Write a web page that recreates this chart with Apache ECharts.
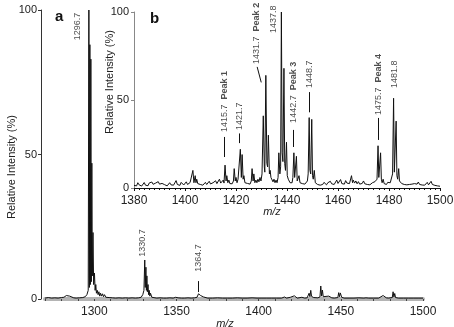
<!DOCTYPE html>
<html><head><meta charset="utf-8">
<script src="https://cdn.jsdelivr.net/npm/echarts@6/dist/echarts.min.js"></script>
<style>html,body{margin:0;padding:0;background:#fff}#c{width:454px;height:327px}</style>
</head><body><div id="c"></div>
<script>
// ---- axis ticks / labels ----
const mainXTicks = [1270,1280,1290,1300,1310,1320,1330,1340,1350,1360,1370,1380,1390,1400,1410,1420,1430,1440,1450,1460,1470,1480,1490,1500];
const mainXLabels = [1300,1350,1400,1450,1500];
const yTickLabels = [0,50,100];
const insetXLabels = [1380,1400,1420,1440,1460,1480,1500];

// ---- spectrum (a): full range, m/z vs relative intensity ----
const mainSpectrum = [
[1270,0.3],[1272,0.5],[1274,0.3],[1276,0.4],[1278,0.3],[1280,0.5],[1281.5,0.6],[1283,1.2],[1284,1.5],[1285,1.0],[1286,0.6],[1287.5,0.4],[1289,0.3],[1291,0.4],[1293,0.5],[1294.5,0.8],[1295.5,1.5],[1296.3,3],[1296.7,100],[1297.0,4],[1297.3,88],[1297.6,5],[1297.9,83],[1298.2,6],[1298.5,47],[1298.8,8],[1299.2,23],[1299.6,5],[1300.1,9],[1300.5,3],[1300.9,5],[1301.3,2],[1301.8,3],[1302.3,1.5],[1302.8,2.5],[1303.3,1],[1303.8,2],[1304.4,1],[1305,1.8],[1305.6,0.8],[1306.2,1.5],[1307,0.6],[1308,1.2],[1309,0.5],[1310,1.0],[1311,0.4],[1312,0.8],[1313,0.3],[1315,0.4],[1317,0.3],[1319,0.4],[1321,0.3],[1323,0.4],[1325,0.3],[1327,0.4],[1328.5,0.6],[1329.5,1.5],[1330.2,3],[1330.7,13.5],[1331.0,4],[1331.4,11],[1331.7,3],[1332.0,8],[1332.3,2.5],[1332.7,5],[1333.0,1.5],[1333.4,3],[1333.8,1],[1334.2,2],[1335,0.6],[1336,0.4],[1338,0.3],[1340,0.4],[1342,0.3],[1344,0.3],[1346,0.4],[1348,0.3],[1349.5,0.6],[1350.2,0.9],[1351,0.4],[1353,0.3],[1355,0.3],[1357,0.4],[1359,0.3],[1361,0.4],[1362.5,0.6],[1363.4,1.8],[1364.0,1.5],[1364.7,1.2],[1365.5,0.9],[1366.5,0.7],[1367.5,0.5],[1369,0.3],[1372,0.3],[1375,0.4],[1378,0.3],[1381,0.3],[1384,0.3],[1387,0.4],[1390,0.3],[1393,0.3],[1396,0.4],[1399,0.3],[1402,0.3],[1403.1,0.6],[1405,0.3],[1408,0.3],[1411,0.3],[1414,0.3],[1415.7,0.7],[1417,0.3],[1419.3,0.6],[1420.5,0.3],[1421.7,1.1],[1422.4,0.9],[1423.5,0.3],[1426.3,0.6],[1428,0.3],[1429.5,0.4],[1430.2,0.6],[1430.7,2.0],[1431.2,0.8],[1431.7,3.0],[1432.2,0.9],[1432.7,1.5],[1433.5,0.5],[1434.5,0.3],[1436,0.4],[1436.8,1.0],[1437.3,0.7],[1437.8,4.5],[1438.3,1.0],[1438.8,3.1],[1439.3,0.8],[1439.8,1.3],[1440.5,0.4],[1442.7,1.0],[1443.7,0.9],[1444.5,0.4],[1446,0.3],[1448.2,0.5],[1448.7,2.2],[1449.2,0.8],[1449.7,2.1],[1450.5,0.6],[1452,0.3],[1455,0.3],[1458,0.3],[1461,0.4],[1464,0.3],[1465.3,0.4],[1467,0.3],[1470,0.3],[1473,0.3],[1475.7,1.2],[1476.7,1.0],[1477.7,0.4],[1479,0.3],[1481.3,0.5],[1481.8,2.5],[1482.3,0.7],[1482.8,1.9],[1483.3,0.5],[1483.8,0.6],[1485,0.3],[1488,0.3],[1491,0.3],[1494,0.3],[1497,0.3],[1500,0.3]
];

// ---- spectrum (b): zoom 1380-1500 ----
const insetSpectrum = [
[1380,1.5],[1380.5,2.5],[1381,1.2],[1381.5,3],[1382,1.8],[1382.5,2.4],[1383,1.1],[1383.5,2.2],[1384,3.1],[1384.5,1.6],[1385,2.7],[1385.5,1.3],[1386,2.9],[1386.5,1.9],[1387,3.4],[1387.5,2.1],[1388,1.4],[1388.5,2.8],[1389,1.7],[1389.5,3.6],[1390,2.2],[1390.5,1.5],[1391,2.6],[1391.5,3.3],[1392,1.9],[1392.5,2.5],[1393,1.2],[1393.5,2.3],[1394,3.0],[1394.5,1.8],[1395,2.4],[1395.5,1.6],[1396,2.9],[1396.5,4.2],[1397,2.0],[1397.5,2.7],[1398,1.5],[1398.5,3.2],[1399,2.1],[1399.5,1.7],[1400,2.8],[1400.5,3.5],[1401,2.0],[1401.5,2.6],[1402,3.1],[1402.5,2.0],[1403.1,10],[1403.5,3],[1404,7],[1404.3,3],[1404.6,5],[1405,2.5],[1405.5,3.5],[1406,2],[1406.5,2.8],[1407,1.6],[1407.5,2.4],[1408,3.2],[1408.5,2.0],[1409,2.7],[1409.5,3.8],[1410,2.3],[1410.5,1.9],[1411,3.0],[1411.5,2.2],[1412,4.1],[1412.5,2.5],[1413,3.4],[1413.5,5.0],[1414,2.8],[1414.5,3.6],[1415,4.5],[1415.3,2.8],[1415.7,13],[1416.1,4],[1416.4,7],[1416.8,3],[1417.2,4.5],[1417.6,2.5],[1418,3.3],[1418.5,2.4],[1419,4],[1419.3,11],[1419.7,4],[1420,6],[1420.4,3],[1420.8,5],[1421.2,4],[1421.7,22],[1422.1,6],[1422.4,19],[1422.8,5],[1423.1,7],[1423.5,3],[1424,4],[1424.5,2.6],[1425,3.4],[1425.5,2.2],[1426,4],[1426.3,11],[1426.7,4],[1427,8],[1427.4,3],[1427.8,4.5],[1428.2,3],[1428.6,5],[1429,3.5],[1429.4,6],[1429.8,4],[1430.2,8],[1430.7,41],[1431.1,12],[1431.3,9],[1431.7,64],[1432.1,14],[1432.4,12],[1432.7,30],[1433.1,8],[1433.4,10],[1433.7,6],[1434.1,5],[1434.5,3.5],[1434.9,5],[1435.3,3],[1435.7,4.5],[1436.1,3],[1436.5,6],[1436.8,20],[1437.2,8],[1437.5,12],[1437.8,100],[1438.1,20],[1438.4,15],[1438.8,68],[1439.1,14],[1439.4,10],[1439.8,26],[1440.1,7],[1440.5,5],[1440.8,6],[1441.2,3],[1441.6,4],[1442,3],[1442.3,6],[1442.7,20],[1443,6],[1443.3,5],[1443.7,18],[1444,4],[1444.3,4],[1444.7,7],[1445.1,3],[1445.5,4],[1446,2.5],[1446.5,3.5],[1447,2.2],[1447.5,3],[1448,4],[1448.3,8],[1448.7,40],[1449,10],[1449.3,8],[1449.7,39],[1450,7],[1450.3,5],[1450.7,10],[1451.1,3],[1451.5,3.5],[1452,2],[1452.5,2.8],[1453,1.6],[1453.5,2.4],[1454,2],[1454.5,3.2],[1455,2.2],[1455.5,1.8],[1456,3],[1456.5,2.5],[1457,3.8],[1457.5,2.4],[1458,3.2],[1458.5,2],[1459,2.8],[1459.5,4.5],[1460,2.6],[1460.5,3.2],[1461,4.8],[1461.5,2.5],[1462,3.4],[1462.5,2.2],[1463,4.2],[1463.5,2.8],[1464,3.6],[1464.5,2.5],[1465.3,7],[1465.7,3],[1466,4.5],[1466.5,2.8],[1467,4],[1467.5,2.4],[1468,3.6],[1468.5,2.2],[1469,3.3],[1469.5,2.6],[1470,4],[1470.5,2.4],[1471,3.1],[1471.5,2],[1472,2.7],[1472.5,1.8],[1473,2.5],[1473.5,3],[1474,2.2],[1474.5,3.6],[1475,4],[1475.3,5],[1475.7,24],[1476,6],[1476.3,5],[1476.7,20],[1477,5],[1477.3,3],[1477.7,5],[1478.1,2.5],[1478.5,3],[1479,2],[1479.5,3.2],[1480,2.4],[1480.5,3],[1481,3.5],[1481.4,8],[1481.8,51],[1482.1,9],[1482.4,8],[1482.8,38],[1483.1,7],[1483.4,5],[1483.8,11],[1484.1,4],[1484.5,3],[1485,2.5],[1485.5,3.2],[1486,2],[1486.5,2.6],[1487,1.8],[1487.5,2.4],[1488,2],[1488.5,1.6],[1489,2.2],[1489.5,1.5],[1490,2.5],[1490.5,1.8],[1491,2.2],[1491.5,3.4],[1492,2],[1492.5,2.8],[1493,1.7],[1493.5,2.4],[1494,1.6],[1494.5,2.2],[1495,3.2],[1495.5,1.8],[1496,2.6],[1496.5,3.8],[1497,2],[1497.5,2.4],[1498,1.5],[1498.5,2],[1499,1.2],[1499.5,1.6],[1500,1]
];

// ---- peak annotation texts ----
const mainPeakNames = ['1296.7','1330.7','1364.7'];
const insetPeakNames = ['1415.7','1421.7','1431.7','1437.8','1442.7','1448.7','1475.7','1481.8'];
const insetPeakTags = ['Peak 1','','Peak 2','','Peak 3','','Peak 4',''];

// annotation layout (in data coordinates of each panel)
const mainLabelAnchors = [[1289.6,89.5],[1329.4,14.6],[1363.4,9.4]];
const mainLeaders = [[[1363.4,6.2],[1363.4,2.4]]];
const insetLabelAnchors = [[1415.5,31.8],[1421.3,32.9],[1428.0,70.5],[1434.7,88.0],[1442.5,37.0],[1448.7,56.8],[1475.7,41.5],[1482.0,56.8]];
const insetLeaders = [
  [[1415.5,29.0],[1415.5,17.6]],
  [[1421.3,31.0],[1421.3,25.5]],
  [[1428.3,68.8],[1429.9,60.0]],
  [[1442.5,33.0],[1442.5,23.3]],
  [[1448.6,54.5],[1448.6,43.0]],
  [[1475.6,39.8],[1475.6,27.3]]
];

const FONT = 'Liberation Sans, Arial, sans-serif';
const chart = echarts.init(document.getElementById('c'), null, {renderer:'canvas'});

function labelSeries(name, xi, yi, anchors, names, tags, leaders){
  return {
    name, type:'scatter', xAxisIndex:xi, yAxisIndex:yi, symbolSize:1, z:5,
    itemStyle:{color:'rgba(0,0,0,0)'}, silent:true,
    data: anchors.map((a,i)=>({value:a, t:names[i], g:tags ? tags[i] : ''})),
    label:{
      show:true, position:'inside', rotate:90, align:'left', verticalAlign:'middle',
      color:'#222', fontFamily:FONT, fontSize:9,
      formatter: p => p.data.g ? '{v|'+p.data.t+'}  {b|'+p.data.g+'}' : '{v|'+p.data.t+'}',
      rich:{ v:{fontSize:9, color:'#222', fontFamily:FONT}, b:{fontSize:9, fontWeight:'bold', color:'#222', fontFamily:FONT} }
    },
    markLine:{
      silent:true, symbol:['none','none'], animation:false,
      lineStyle:{color:'#111', width:1, type:'solid'}, label:{show:false},
      data: leaders.map(l=>[{coord:l[0]},{coord:l[1]}])
    }
  };
}

chart.setOption({
  animation:false,
  backgroundColor:'#fff',
  textStyle:{fontFamily:FONT},
  title:[
    {text:'a', left:50, top:4, textStyle:{fontSize:15, fontWeight:'bold', color:'#111', fontFamily:FONT}},
    {text:'b', left:145, top:6, textStyle:{fontSize:15, fontWeight:'bold', color:'#111', fontFamily:FONT}}
  ],
  grid:[
    {left:45, right:31, top:10, bottom:28, outerBoundsMode:'none', containLabel:false},
    {left:134, right:14, top:12, bottom:139, outerBoundsMode:'none', containLabel:false}
  ],
  xAxis:[
    {type:'value', gridIndex:0, min:1270, max:1500, offset:2,
     name:'m/z', nameLocation:'middle', nameGap:17, nameMoveOverlap:false,
     nameTextStyle:{fontStyle:'italic', fontSize:11, color:'#222', padding:[0,18,0,0]},
     axisLine:{lineStyle:{color:'#b4b4b4', width:4}},
     axisTick:{show:true, customValues:mainXTicks, length:2, lineStyle:{color:'#444', width:1}},
     axisLabel:{customValues:mainXLabels, fontSize:12, color:'#222', margin:5, formatter: v => String(v)},
     splitLine:{show:false}},
    {type:'value', gridIndex:1, min:1380, max:1500, interval:20,
     name:'m/z', nameLocation:'middle', nameGap:18, nameMoveOverlap:false,
     nameTextStyle:{fontStyle:'italic', fontSize:11, color:'#222', padding:[0,30,0,0]},
     axisLine:{lineStyle:{color:'#111', width:1}},
     axisTick:{show:true, length:3, lineStyle:{color:'#111'}},
     minorTick:{show:true, splitNumber:10, length:2, lineStyle:{color:'#111'}},
     axisLabel:{fontSize:12, color:'#222', margin:7, formatter: v => insetXLabels.includes(v) ? String(v) : ''},
     splitLine:{show:false}}
  ],
  yAxis:[
    {type:'value', gridIndex:0, min:0, max:100, interval:50, offset:4,
     name:'Relative Intensity (%)', nameLocation:'middle', nameGap:24, nameMoveOverlap:false,
     nameTextStyle:{fontSize:11, color:'#222', padding:[0,25,0,0]},
     axisLine:{show:true, lineStyle:{color:'#333', width:1}},
     axisTick:{show:true, length:3, lineStyle:{color:'#333'}},
     axisLabel:{fontSize:11, color:'#222', margin:4, formatter: v => yTickLabels.includes(v) ? String(v) : ''},
     splitLine:{show:false}},
    {type:'value', gridIndex:1, min:0, max:100, interval:50,
     name:'Relative Intensity (%)', nameLocation:'middle', nameGap:19, nameMoveOverlap:false,
     nameTextStyle:{fontSize:11, color:'#222', padding:[0,0,0,36]},
     axisLine:{show:true, lineStyle:{color:'#888', width:1}},
     axisTick:{show:true, length:3, lineStyle:{color:'#888'}},
     axisLabel:{fontSize:11, color:'#222', margin:5, formatter: v => yTickLabels.includes(v) ? String(v) : ''},
     splitLine:{show:false}}
  ],
  series:[
    {name:'a', type:'line', xAxisIndex:0, yAxisIndex:0, data:mainSpectrum, showSymbol:false, symbol:'none',
     lineStyle:{color:'#111', width:1}, z:3},
    {name:'b', type:'line', xAxisIndex:1, yAxisIndex:1, data:insetSpectrum, showSymbol:false, symbol:'none',
     lineStyle:{color:'#111', width:1}, z:3},
    labelSeries('la', 0, 0, mainLabelAnchors, mainPeakNames, null, mainLeaders),
    labelSeries('lb', 1, 1, insetLabelAnchors, insetPeakNames, insetPeakTags, insetLeaders)
  ]
});
</script></body></html>
